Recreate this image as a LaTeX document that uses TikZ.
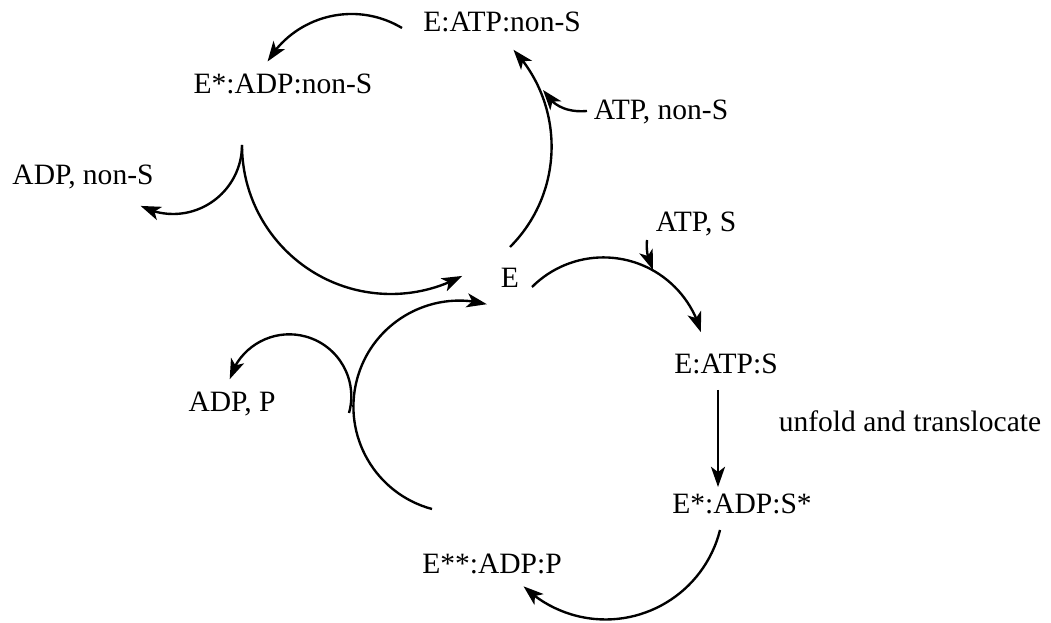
\documentclass[tikz,border=0pt]{standalone}
\usepackage{fontspec}
\setmainfont{Liberation Serif}
\usetikzlibrary{arrows.meta,bending}

\begin{document}
\begin{tikzpicture}[x=0.02cm, y=0.02cm,
  lbl/.style={anchor=base, inner sep=0pt, font=\fontsize{16.8}{20}\selectfont},
  flow/.style={draw, line width=1.35pt, -{Stealth[length=11.5pt, width=8pt, inset=3pt, flex]}}]
\useasboundingbox (0,0) rectangle (1051,622);
\node [lbl] (eATPn) at (502,590) {E:ATP:non-S};
\node [lbl] (eADPn) at (283,528) {E*:ADP:non-S};
\node [lbl] (outADPn) at (83,437) {ADP, non-S};
\node [lbl] (inATPn) at (661,502) {ATP, non-S};
\node [lbl] (e) at (510,334) {E};
\node [lbl] (inATPs) at (696,390) {ATP, S};
\node [lbl] (eATPs) at (726,248) {E:ATP:S};
\node [lbl] (unfold) at (910,190) {unfold and translocate};
\node [lbl] (eADPs) at (742,109) {E*:ADP:S*};
\node [lbl] (eADPp) at (492,49) {E**:ADP:P};
\node [lbl] (outADPp) at (232,210) {ADP, P};
\coordinate (hydn) at (402,594);
\coordinate (bindn) at (510,375);
\coordinate (atpnA) at (587,511);
\coordinate (atpnB) at (543,532);
\coordinate (split) at (242,477);
\coordinate (binds) at (532,335);
\coordinate (atpsA) at (647,382);
\coordinate (atpsB) at (653,352);
\coordinate (pullA) at (718,232);
\coordinate (pullB) at (718,135);
\coordinate (hyds) at (720,92);
\coordinate (reset) at (432,113);
\coordinate (relp) at (349,209);
\path [flow] (hydn) arc [start angle=59, end angle=149, radius=98];
\path [flow] (bindn) arc [start angle=-45, end angle=43, radius=142];
\path [flow] (atpnA) to [out=185, in=-60] (atpnB);
\path [flow] (split) arc [start angle=180, end angle=298.5, radius=149];
\path [flow] (split) arc [start angle=0, end angle=-118, radius=69];
\path [flow] (binds) arc [start angle=135, end angle=15, radius=101];
\path [flow] (atpsA) to [out=-95, in=115] (atpsB);
\path [flow] (pullA) -- (pullB);
\path [flow] (hyds) arc [start angle=-14, end angle=-134, radius=118];
\path [flow] (reset) arc [start angle=255, end angle=75, radius=106];
\path [flow] (relp) arc [start angle=-15.6, end angle=164, radius=62];
\end{tikzpicture}
\end{document}
